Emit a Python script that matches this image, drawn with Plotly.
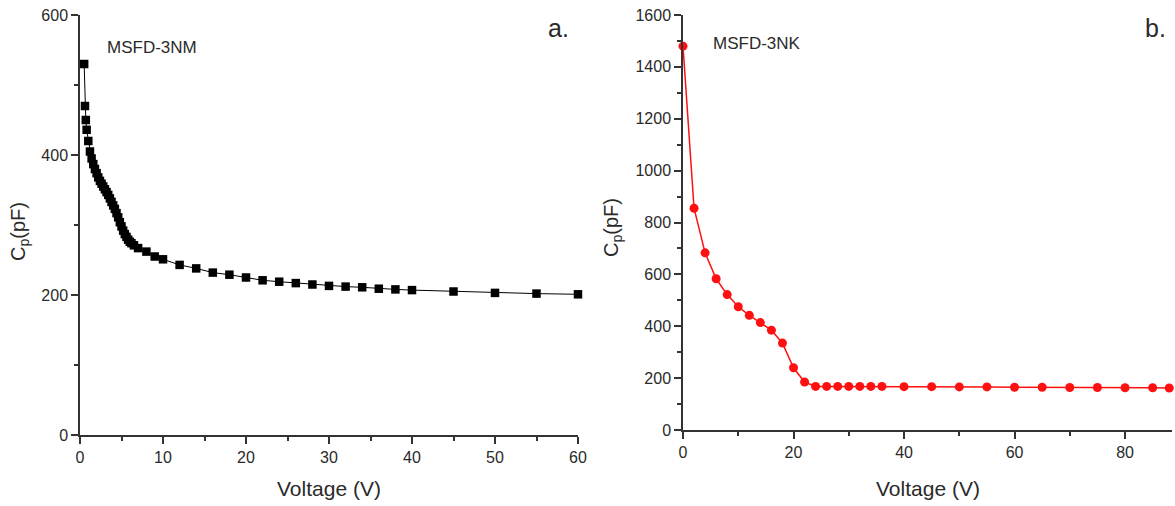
import plotly.graph_objects as go

# Panel a: MSFD-3NM
volt_a = [0.5, 0.6, 0.7, 0.8, 1.0, 1.2, 1.4, 1.6, 1.8, 2.0, 2.2, 2.4, 2.6, 2.8, 3.0,
          3.2, 3.4, 3.6, 3.8, 4.0, 4.2, 4.4, 4.6, 4.8, 5.0, 5.2, 5.4, 5.6, 5.8, 6.0,
          6.2, 6.5, 7, 8, 9, 10, 12, 14, 16, 18, 20, 22, 24, 26, 28, 30, 32, 34, 36,
          38, 40, 45, 50, 55, 60]
cap_a = [530, 470, 450, 436, 420, 405, 395, 387, 380, 374, 368, 363, 359, 355, 351,
         347, 343, 338, 333, 328, 323, 317, 311, 304, 298, 292, 287, 283, 279, 276,
         274, 271, 267, 262, 255, 251, 243, 238, 232, 229, 225, 221, 219, 217, 215,
         213, 212, 211, 209, 208, 207, 205, 203, 202, 201]

# Panel b: MSFD-3NK
volt_b = [0, 2, 4, 6, 8, 10, 12, 14, 16, 18, 20, 22, 24, 26, 28, 30, 32, 34, 36,
          40, 45, 50, 55, 60, 65, 70, 75, 80, 85, 88]
cap_b = [1480, 855, 683, 583, 522, 475, 442, 414, 385, 335, 240, 185, 168, 168, 168,
         168, 168, 168, 168, 167, 167, 166, 166, 165, 165, 164, 164, 163, 163, 162]

W, H = 1175, 506
FONT = "Liberation Sans, Arial, sans-serif"
TXT = "#2a2a2a"

def px(x):
    return x / W

def py(y):
    return 1 - y / H

fig = go.Figure()
fig.add_trace(go.Scatter(x=volt_a, y=cap_a, mode="lines+markers",
                         line=dict(color="black", width=1),
                         marker=dict(symbol="square", size=8.5, color="black"),
                         xaxis="x", yaxis="y", showlegend=False, cliponaxis=False))
fig.add_trace(go.Scatter(x=volt_b, y=cap_b, mode="lines+markers",
                         line=dict(color="#ff1010", width=1.5),
                         marker=dict(symbol="circle", size=9, color="#ff1010"),
                         xaxis="x2", yaxis="y2", showlegend=False, cliponaxis=False))

axis_common = dict(showgrid=False, zeroline=False, showline=True, linecolor="#333",
                   linewidth=1.5, ticks="outside", ticklen=7, tickwidth=1.5,
                   tickcolor="#333", tickfont=dict(family=FONT, size=16, color=TXT),
                   mirror=False, automargin=False)

fig.update_layout(
    width=W, height=H,
    margin=dict(l=0, r=0, t=0, b=0),
    paper_bgcolor="white", plot_bgcolor="white",
    xaxis=dict(domain=[px(80), px(578)], range=[0, 60], dtick=10, anchor="y",
               minor=dict(dtick=5, ticks="outside", ticklen=4, tickcolor="#333"),
               **axis_common),
    yaxis=dict(domain=[py(435), py(15)], range=[0, 600], dtick=200, anchor="x",
               minor=dict(dtick=100, ticks="outside", ticklen=4, tickcolor="#333"),
               **axis_common),
    xaxis2=dict(domain=[px(683), px(1172)], range=[0, 88.5], dtick=20, anchor="y2",
                minor=dict(dtick=10, ticks="outside", ticklen=4, tickcolor="#333"),
                **axis_common),
    yaxis2=dict(domain=[py(430), py(15)], range=[0, 1600], dtick=200, anchor="x2",
                minor=dict(dtick=100, ticks="outside", ticklen=4, tickcolor="#333"),
                **axis_common),
)

ann = [
    dict(text="MSFD-3NM", x=px(105), y=py(47), xanchor="left", yanchor="middle", size=17),
    dict(text="MSFD-3NK", x=px(711), y=py(44), xanchor="left", yanchor="middle", size=17),
    dict(text="a.", x=px(558), y=py(28), xanchor="center", yanchor="middle", size=25),
    dict(text="b.", x=px(1155), y=py(28), xanchor="center", yanchor="middle", size=25),
    dict(text="Voltage (V)", x=px(329), y=py(488), xanchor="center", yanchor="middle", size=21),
    dict(text="Voltage (V)", x=px(928), y=py(488), xanchor="center", yanchor="middle", size=21),
]
for a in ann:
    fig.add_annotation(text=a["text"], x=a["x"], y=a["y"], xref="paper", yref="paper",
                       xanchor=a["xanchor"], yanchor=a["yanchor"], showarrow=False,
                       font=dict(family=FONT, size=a["size"], color=TXT))

for xx, yy in [(19, 232), (612, 228)]:
    fig.add_annotation(text="C<sub>p</sub>(pF)", x=px(xx), y=py(yy), xref="paper", yref="paper",
                       xanchor="center", yanchor="middle", showarrow=False, textangle=-90,
                       font=dict(family=FONT, size=20, color=TXT))

fig.write_html("out.html", config={"displayModeBar": False},
               post_script="document.body.style.margin='0';document.body.style.overflow='hidden';")
